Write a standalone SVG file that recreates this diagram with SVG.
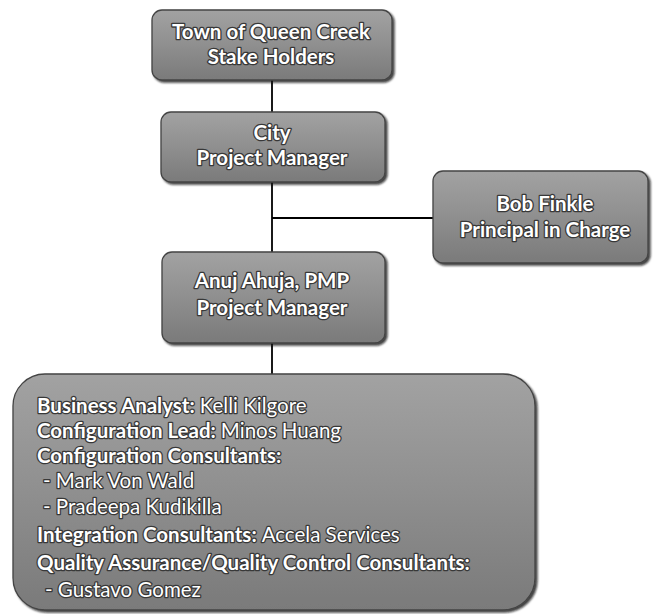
<svg xmlns="http://www.w3.org/2000/svg" width="657" height="614" viewBox="0 0 657 614">
  <defs>
    <linearGradient id="boxFill" x1="0" y1="0" x2="0" y2="1">
      <stop offset="0" stop-color="#a2a2a2"/>
      <stop offset="0.5" stop-color="#8f8f8f"/>
      <stop offset="1" stop-color="#7a7a7a"/>
    </linearGradient>
    <filter id="shadow" x="-10%" y="-10%" width="125%" height="130%">
      <feDropShadow dx="2" dy="2" stdDeviation="1.2" flood-color="#111" flood-opacity="0.8"/>
    </filter>
  </defs>
  <style>
    .box { fill: url(#boxFill); stroke: #444; stroke-width: 1.3; filter: url(#shadow); }
    .lbl { font-family: Lato, "Open Sans", "Liberation Sans", sans-serif; font-weight: bold; font-size: 20.5px; fill: #ffffff; stroke: #383838; stroke-width: 2.6; paint-order: stroke; stroke-linejoin: round; }
    .title { text-anchor: middle; }
    .reg { font-weight: normal; }
    .conn { stroke: #000; stroke-width: 1.8; fill: none; }
  </style>
  <rect width="657" height="614" fill="#ffffff"/>

  <g id="connectors">
    <line class="conn" x1="272" y1="80" x2="272" y2="112"/>
    <line class="conn" x1="272" y1="182" x2="272" y2="252"/>
    <line class="conn" x1="272" y1="218" x2="433" y2="218"/>
    <line class="conn" x1="272" y1="343" x2="272" y2="374"/>
  </g>

  <g id="stakeholders">
    <rect class="box" x="152" y="10" width="240" height="70" rx="10"/>
    <text class="lbl title" x="271" y="39">Town of Queen Creek</text>
    <text class="lbl title" x="271" y="64">Stake Holders</text>
  </g>

  <g id="city-pm">
    <rect class="box" x="161" y="112" width="224" height="70" rx="10"/>
    <text class="lbl title" x="272" y="140">City</text>
    <text class="lbl title" x="272" y="165">Project Manager</text>
  </g>

  <g id="principal">
    <rect class="box" x="433" y="171" width="215" height="92" rx="10"/>
    <text class="lbl title" x="545" y="211">Bob Finkle</text>
    <text class="lbl title" x="545" y="237">Principal in Charge</text>
  </g>

  <g id="project-manager">
    <rect class="box" x="162" y="252" width="223" height="91" rx="10"/>
    <text class="lbl title" x="272" y="288">Anuj Ahuja, PMP</text>
    <text class="lbl title" x="272" y="315">Project Manager</text>
  </g>

  <g id="team">
    <rect class="box" x="13" y="374" width="522" height="236" rx="32"/>
    <text class="lbl" x="37" y="413">Business Analyst: <tspan class="reg">Kelli Kilgore</tspan></text>
    <text class="lbl" x="37" y="438">Configuration Lead: <tspan class="reg">Minos Huang</tspan></text>
    <text class="lbl" x="37" y="463">Configuration Consultants:</text>
    <text class="lbl reg" x="43" y="488">- Mark Von Wald</text>
    <text class="lbl reg" x="43" y="514">- Pradeepa Kudikilla</text>
    <text class="lbl" x="37" y="542">Integration Consultants: <tspan class="reg">Accela Services</tspan></text>
    <text class="lbl" x="37" y="570">Quality Assurance/Quality Control Consultants:</text>
    <text class="lbl reg" x="45" y="597">- Gustavo Gomez</text>
  </g>
</svg>
